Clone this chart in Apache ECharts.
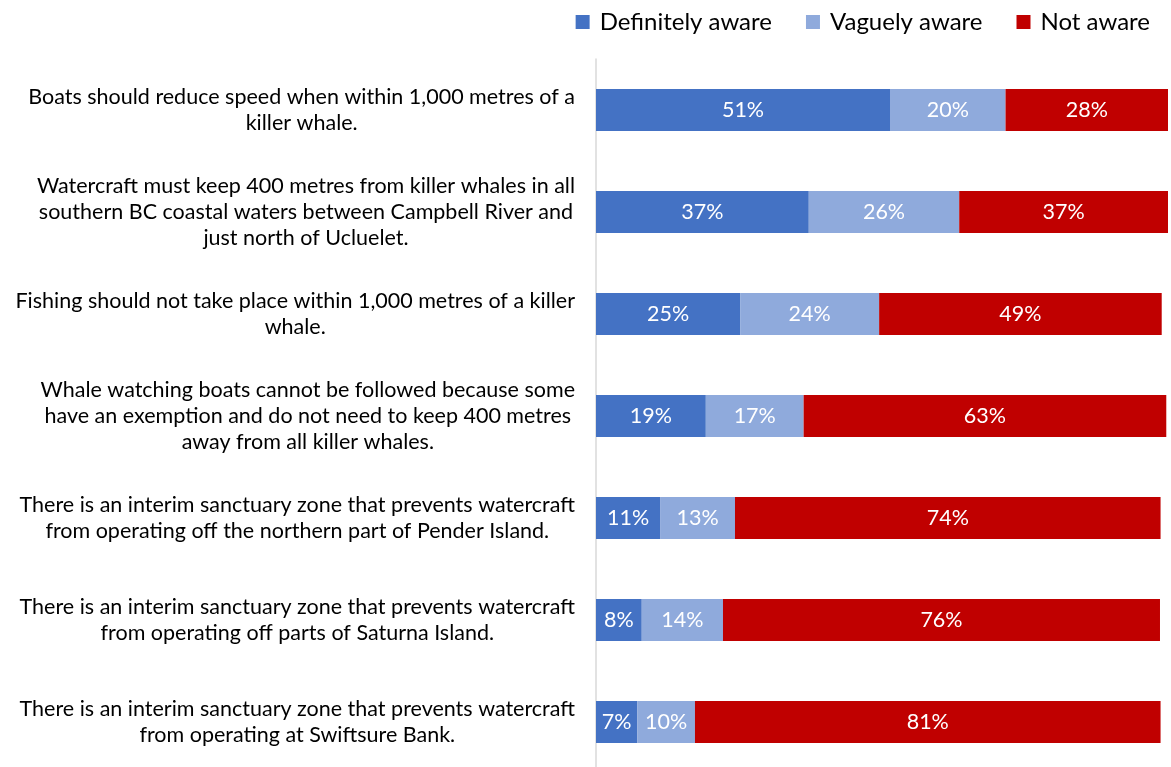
<!DOCTYPE html>
<html>
<head>
<meta charset="utf-8">
<script src="https://cdn.jsdelivr.net/npm/echarts@6/dist/echarts.min.js"></script>
<style>
html,body{margin:0;padding:0;background:#fff;overflow:hidden;width:1171px;height:767px;}
#chart{width:1171px;height:773px;}
</style>
</head>
<body>
<div id="chart"></div>
<script>
const categories = [
  "Boats should reduce speed when within 1,000 metres of a\nkiller whale.",
  "Watercraft must keep 400 metres from killer whales in all\nsouthern BC coastal waters between Campbell River and\njust north of Ucluelet.",
  "Fishing should not take place within 1,000 metres of a killer\nwhale.",
  "Whale watching boats cannot be followed because some\nhave an exemption and do not need to keep 400 metres\naway from all killer whales.",
  "There is an interim sanctuary zone that prevents watercraft\nfrom operating off the northern part of Pender Island.",
  "There is an interim sanctuary zone that prevents watercraft\nfrom operating off parts of Saturna Island.",
  "There is an interim sanctuary zone that prevents watercraft\nfrom operating at Swiftsure Bank."
];
const seriesNames = ["Definitely aware", "Vaguely aware", "Not aware"];
const definitelyAware = [51.4, 37.2, 25.2, 19.2, 11.2, 8.0, 7.2];
const vaguelyAware = [20.2, 26.3, 24.3, 17.1, 13.1, 14.2, 10.1];
const notAware = [28.4, 36.5, 49.4, 63.4, 74.4, 76.4, 81.4];
const colors = ["#4472C4", "#8FAADC", "#C00000"];

const FONT = "Lato, 'Liberation Sans', sans-serif";
const chart = echarts.init(document.getElementById('chart'));

function mkSeries(name, data, color) {
  return {
    name: name,
    type: 'bar',
    stack: 'total',
    data: data,
    barWidth: 42,
    itemStyle: { color: color },
    label: {
      show: true,
      position: 'inside',
      color: '#fff',
      fontFamily: FONT,
      fontSize: 21.5,
      formatter: p => Math.round(p.value) + '%'
    },
    emphasis: { disabled: true }
  };
}

chart.setOption({
  animation: false,
  backgroundColor: '#fff',
  legend: {
    top: 5,
    right: 16,
    itemWidth: 14,
    itemHeight: 14,
    itemGap: 34,
    icon: 'rect',
    textStyle: { fontFamily: FONT, fontSize: 24, color: '#000', padding: [0, 0, 0, 5] },
    data: seriesNames
  },
  grid: { left: 596, top: 59, right: 3, bottom: 0, containLabel: false },
  xAxis: {
    type: 'value',
    min: 0,
    max: 100,
    show: false
  },
  yAxis: {
    type: 'category',
    inverse: true,
    data: categories,
    axisLine: { show: true, lineStyle: { color: '#D9D9D9', width: 1.5 } },
    axisTick: { show: false },
    splitLine: { show: false },
    axisLabel: {
      margin: 21,
      align: 'right',
      color: '#000',
      fontFamily: FONT,
      fontSize: 21.5,
      lineHeight: 26,
      formatter: v => v.split('\n').map(l => '{c|' + l + '}').join('\n'),
      rich: {
        c: { align: 'center', fontFamily: FONT, fontSize: 21.5, lineHeight: 26, color: '#000' }
      }
    }
  },
  series: [
    mkSeries(seriesNames[0], definitelyAware, colors[0]),
    mkSeries(seriesNames[1], vaguelyAware, colors[1]),
    mkSeries(seriesNames[2], notAware, colors[2])
  ]
});
</script>
</body>
</html>
